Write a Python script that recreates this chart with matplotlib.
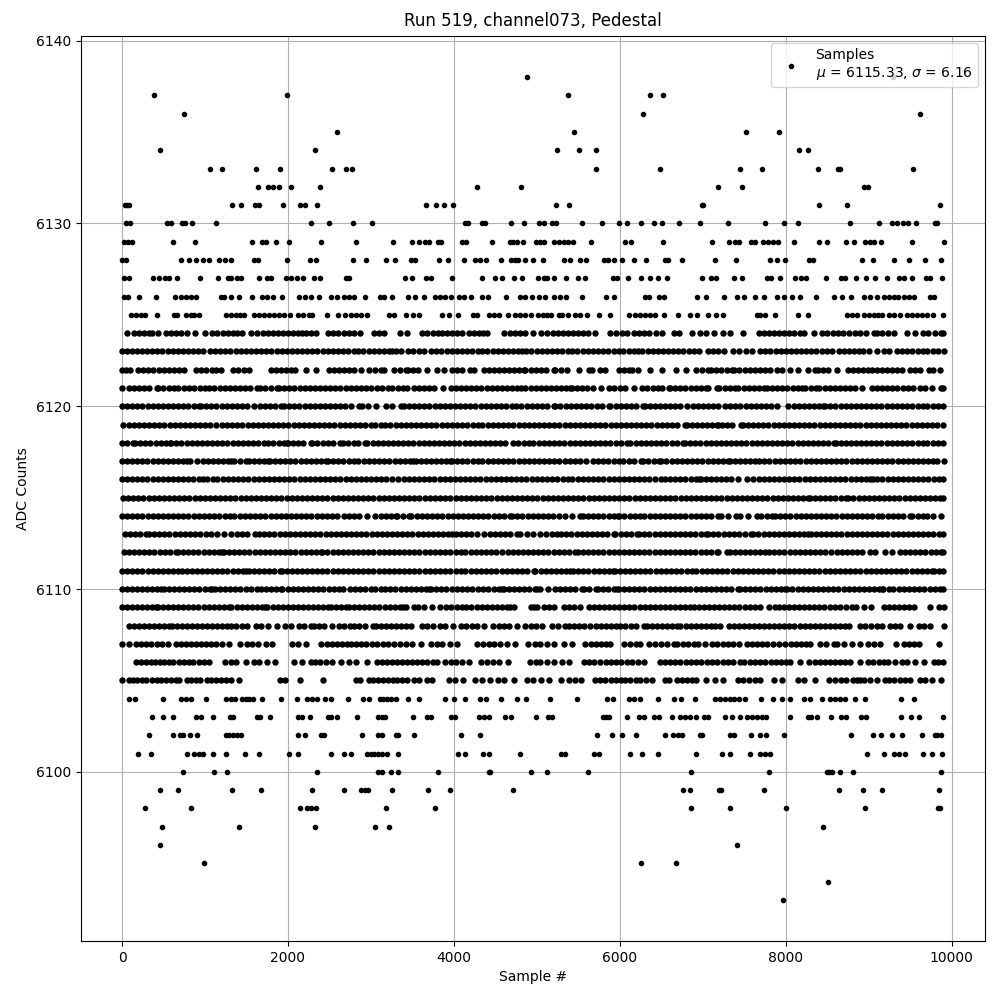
import matplotlib
matplotlib.use("Agg")
import matplotlib.pyplot as plt

# sample numbers, one list per ADC level
s6093 = [7964]
s6094 = [8506]
s6095 = [988, 6253, 6675]
s6096 = [458, 7410]
s6097 = [482, 1410, 2325, 3048, 3217, 8446]
s6098 = [277, 831, 2145, 2233, 2281, 2333, 3181, 3771, 6855, 7325, 8000, 8952, 9831, 9863]
s6099 = [458, 675, 1325, 1675, 2289, 2675, 2875, 2924, 2964, 3253, 3687, 3952, 4711, 6759, 6843, 7201, 7221, 7735, 8639, 8928, 9157, 9843]
s6100 = [735, 1108, 1265, 2349, 3084, 3128, 3241, 3325, 3807, 4421, 4441, 4928, 5120, 5614, 6855, 7795, 8498, 8526, 8554, 8651, 8807, 9867]
s6101 = [193, 349, 783, 867, 924, 980, 1096, 1253, 1482, 1651, 2012, 2120, 2518, 2675, 2759, 2956, 2996, 3036, 3084, 3136, 3189, 3325, 4048, 4132, 4349, 4425, 4795,
         5293, 5341, 5694, 5751, 6120, 6265, 6458, 6916, 7229, 7325, 7566, 7695, 7755, 7815, 8976, 9181, 9301, 9361, 9434, 9650, 9767, 9880]
s6102 = [325, 614, 699, 739, 819, 908, 1249, 1289, 1341, 1381, 1434, 2120, 2205, 2393, 2434, 2891, 3088, 3136, 3297, 3325, 3518, 4084, 4313,
         5723, 5904, 6024, 6193, 6542, 6639, 6699, 6747, 6964, 6992, 7325, 7373, 7578, 7687, 7767, 7976, 8783, 9048, 9144, 9277, 9398, 9639, 9795, 9823, 9871]
s6103 = [361, 494, 614, 892, 956, 1096, 1297, 1341, 1622, 1663, 1783, 2120, 2173, 2265, 2482, 2518, 2590, 2831, 3084, 3128, 3169, 3506, 3671, 3723, 3960, 4008, 4301, 4369, 4421, 4618, 4690, 4988,
         5133, 5185, 5799, 5839, 5876, 6084, 6229, 6297, 6410, 6474, 6627, 6731, 6791, 6851, 6924, 7012, 7068, 7265, 7349, 7454, 7534, 7594, 7655, 7715, 7767, 8056, 8265, 8305, 8373, 8542, 8667, 8727, 8912, 8968, 9385, 9506, 9610, 9902]
s6104 = [84, 161, 494, 707, 767, 831, 1012, 1249, 1309, 1357, 1442, 1490, 1530, 1574, 1687, 1916, 2108, 2233, 2293, 2345, 2446, 2522, 2723, 2904, 2976, 3104, 3149, 3189, 3237, 3301, 3446, 3574, 3891, 4000, 4132, 4321, 4385, 4566, 4759, 4867,
         5157, 5482, 5843, 5916, 6108, 6169, 6241, 6462, 6651, 6739, 6904, 7153, 7213, 7273, 7333, 7382, 7442, 7506, 7703, 7843, 7960, 8056, 8225, 8289, 8434, 8538, 8598, 8659, 8719, 8839, 8952, 9390, 9550]
s6105 = [0, 84, 135, 185, 237, 293, 357, 418, 470, 530, 590, 647, 687, 779, 835, 890, 945, 1028, 1076, 1135, 1190, 1250, 1309, 1410, 1900, 1960, 2145, 2422, 2815, 2868, 2976, 3030, 3090, 3150, 3205, 3265, 3317, 3377, 3440, 3518, 3578, 3679, 3739, 3940, 4008, 4108, 4257, 4341, 4434, 4530, 4602, 4723, 4876, 4956, 5052, 5145, 5293, 5385, 5465, 5534,
         5707, 5765, 5825, 5890, 5950, 6010, 6068, 6129, 6190, 6250, 6320, 6389, 6550, 6590, 6690, 6750, 6810, 6870, 6924, 7040, 7153, 7245, 7422, 7490, 7555, 7625, 7695, 7855, 7956, 8145, 8225, 8357, 8526, 8598, 8667, 8731, 8811, 8860, 8900, 8940, 9020, 9100, 9193, 9250, 9310, 9375, 9440, 9502, 9622, 9680, 9763, 9871]
s6106 = [165, 225, 285, 345, 400, 460, 506, 566, 618, 687, 745, 805, 860, 925, 985, 1048, 1237, 1309, 1369, 1498, 1590, 1650, 1743, 1847, 2072, 2173, 2273, 2330, 2390, 2460, 2534, 2635, 2735, 2819, 2948, 3076, 3136, 3195, 3255, 3315, 3370, 3440, 3500, 3558, 3620, 3680, 3745, 3799, 3899, 3960, 4030, 4100, 4181, 4333, 4400, 4470, 4542, 4655, 4923, 4985, 5044, 5125, 5205, 5305, 5385,
         5566, 5630, 5690, 5760, 5830, 5890, 5950, 6020, 6090, 6150, 6220, 6289, 6490, 6550, 6610, 6670, 6730, 6795, 6860, 6920, 6985, 7050, 7110, 7175, 7240, 7300, 7370, 7454, 7502, 7574, 7634, 7695, 7755, 7820, 7880, 7940, 8000, 8056, 8177, 8277, 8349, 8418, 8480, 8540, 8600, 8660, 8719, 8771, 8896, 8988, 9050, 9120, 9181, 9229, 9313, 9402, 9462, 9562, 9663, 9783, 9840, 9902]
s6107 = [4, 84, 165, 225, 285, 345, 420, 486, 554, 647, 710, 770, 830, 890, 950, 1010, 1075, 1135, 1200, 1289, 1422, 1502, 1570, 1640, 1730, 1811, 2044, 2125, 2213, 2402, 2465, 2530, 2590, 2650, 2715, 2755, 2820, 2880, 2945, 3010, 3075, 3145, 3210, 3277, 3349, 3420, 3490, 3598, 3719, 3800, 3859, 3952, 4040, 4281, 4350, 4421, 4482, 4560, 4643, 4735, 4892, 4984, 5044, 5125, 5205, 5325, 5422,
         5586, 5650, 5710, 5770, 5830, 5888, 6056, 6120, 6190, 6249, 6349, 6430, 6498, 6575, 6651, 6691, 6760, 6825, 6892, 6944, 7032, 7112, 7173, 7240, 7300, 7370, 7434, 7534, 7600, 7660, 7720, 7775, 7847, 7916, 7996, 8060, 8120, 8180, 8240, 8297, 8418, 8490, 8578, 8618, 8699, 8795, 8896, 8988, 9060, 9133, 9325, 9422, 9490, 9542, 9610, 9843]
s6108 = [84, 145, 205, 265, 325, 385, 445, 510, 566, 606, 665, 725, 785, 845, 905, 965, 1025, 1085, 1145, 1205, 1265, 1317, 1377, 1440, 1500, 1610, 1671, 1763, 1871, 1960, 2040, 2133, 2193, 2273, 2313, 2375, 2440, 2534, 2614, 2680, 2747, 2795, 2860, 2925, 3028, 3056, 3120, 3180, 3240, 3300, 3360, 3420, 3478, 3618, 3680, 3750, 3831, 3899, 3992, 4088, 4150, 4215, 4273, 4365, 4474, 4542, 4600, 4663, 4763, 4863, 4925, 4985, 5064,
         5185, 5250, 5345, 5385, 5450, 5510, 5566, 5646, 5710, 5770, 5830, 5890, 5950, 6008, 6068, 6130, 6200, 6289, 6329, 6390, 6450, 6510, 6570, 6630, 6691, 6731, 6795, 6860, 6920, 6980, 7040, 7100, 7153, 7205, 7313, 7375, 7435, 7495, 7555, 7620, 7680, 7740, 7800, 7860, 7920, 7980, 8040, 8096, 8169, 8230, 8295, 8355, 8420, 8480, 8540, 8600, 8660, 8720, 8759, 8900, 8960, 9030, 9100, 9161, 9261, 9321, 9382, 9502, 9602, 9663, 9743, 9904]
s6109 = [4, 65, 125, 185, 245, 305, 365, 405, 434, 495, 555, 615, 680, 740, 800, 860, 920, 985, 1045, 1105, 1170, 1230, 1289, 1317, 1380, 1440, 1505, 1565, 1625, 1690, 1719, 1751, 1820, 1880, 1940, 2000, 2060, 2120, 2180, 2240, 2305, 2365, 2425, 2486, 2514, 2580, 2640, 2703, 2735, 2795, 2855, 2920, 2980, 3040, 3100, 3165, 3225, 3285, 3345, 3390, 3418, 3518, 3566, 3639, 3739, 3831, 3908, 3970, 4040, 4100, 4152, 4209, 4281, 4340, 4400, 4460, 4520, 4580, 4640, 4680, 4723, 4924, 4964, 5004, 5092, 5150, 5205,
         5325, 5385, 5450, 5526, 5626, 5685, 5745, 5810, 5870, 5930, 5990, 6050, 6108, 6177, 6249, 6309, 6361, 6420, 6480, 6540, 6605, 6665, 6725, 6790, 6851, 6892, 6950, 7010, 7075, 7135, 7195, 7255, 7320, 7380, 7440, 7505, 7565, 7625, 7687, 7795, 7867, 7916, 7975, 8035, 8095, 8160, 8220, 8280, 8345, 8405, 8465, 8530, 8590, 8658, 8731, 8799, 8852, 8940, 9024, 9181, 9240, 9305, 9365, 9425, 9490, 9542, 9743, 9843, 9904]
s6110 = [0, 60, 120, 180, 240, 300, 360, 420, 474, 506, 565, 625, 690, 750, 810, 870, 930, 995, 1055, 1088, 1120, 1180, 1240, 1305, 1365, 1425, 1490, 1550, 1630, 1679, 1740, 1800, 1860, 1912, 1932, 1995, 2055, 2115, 2180, 2240, 2300, 2365, 2425, 2490, 2550, 2614, 2663, 2747, 2810, 2870, 2930, 2995, 3055, 3116, 3175, 3235, 3295, 3360, 3420, 3480, 3545, 3605, 3660, 3698, 3727, 3790, 3850, 3910, 3975, 4035, 4100, 4160, 4221, 4293, 4355, 4415, 4480, 4540, 4582, 4602, 4665, 4725, 4790, 4850, 4910, 4975, 5004, 5036, 5133,
         5217, 5280, 5340, 5400, 5465, 5546, 5566, 5630, 5719, 5739, 5800, 5860, 5925, 5968, 5988, 6050, 6110, 6175, 6235, 6295, 6360, 6420, 6480, 6545, 6605, 6665, 6730, 6790, 6850, 6915, 6975, 7035, 7100, 7160, 7220, 7285, 7345, 7430, 7450, 7510, 7575, 7635, 7695, 7760, 7820, 7880, 7945, 7992, 8012, 8080, 8145, 8205, 8265, 8330, 8390, 8450, 8515, 8575, 8635, 8700, 8760, 8820, 8885, 8945, 9005, 9070, 9130, 9157, 9177, 9240, 9300, 9365, 9425, 9485, 9550, 9610, 9670, 9735, 9795, 9855, 9900]
s6111 = [0, 60, 125, 185, 245, 310, 370, 430, 495, 555, 615, 680, 727, 779, 840, 900, 965, 1025, 1085, 1150, 1210, 1270, 1335, 1395, 1455, 1498, 1530, 1590, 1650, 1715, 1775, 1835, 1900, 1932, 1984, 2045, 2105, 2170, 2230, 2290, 2355, 2415, 2475, 2540, 2600, 2660, 2725, 2785, 2845, 2910, 2970, 3030, 3095, 3155, 3215, 3280, 3340, 3400, 3465, 3525, 3585, 3650, 3710, 3770, 3835, 3895, 3955, 4020, 4080, 4140, 4205, 4265, 4325, 4390, 4450, 4510, 4575, 4635, 4695, 4760, 4820, 4880, 4964, 4984, 5045, 5105, 5170, 5230, 5290, 5355, 5405, 5437, 5500, 5560, 5620, 5685, 5745, 5805, 5870, 5920,
         5940, 6000, 6065, 6125, 6185, 6250, 6310, 6370, 6435, 6495, 6555, 6620, 6680, 6740, 6805, 6865, 6925, 6990, 7050, 7110, 7175, 7235, 7295, 7360, 7420, 7480, 7545, 7605, 7665, 7730, 7790, 7850, 7915, 7975, 8035, 8100, 8160, 8220, 8285, 8345, 8405, 8470, 8530, 8590, 8655, 8715, 8775, 8840, 8896, 8964, 9025, 9085, 9150, 9210, 9270, 9335, 9395, 9455, 9520, 9580, 9640, 9705, 9759, 9787, 9850, 9900]
s6112 = [24, 85, 145, 205, 270, 330, 390, 455, 515, 575, 647, 675, 735, 800, 860, 920, 985, 1045, 1105, 1170, 1209, 1229, 1290, 1350, 1415, 1475, 1535, 1600, 1660, 1720, 1785, 1845, 1905, 1970, 2030, 2090, 2155, 2215, 2275, 2340, 2393, 2414, 2475, 2540, 2600, 2660, 2725, 2785, 2845, 2910, 2970, 3030, 3095, 3155, 3215, 3280, 3340, 3400, 3465, 3525, 3585, 3650, 3710, 3770, 3835, 3895, 3955, 4020, 4080, 4140, 4205, 4265, 4325, 4390, 4450, 4510, 4582, 4650, 4710, 4770, 4835, 4895, 4955, 5020, 5080, 5140, 5205, 5265, 5325, 5390, 5466, 5494, 5555, 5615, 5680, 5740, 5800, 5865, 5925, 5985,
         6050, 6110, 6170, 6235, 6295, 6355, 6420, 6480, 6540, 6605, 6665, 6725, 6790, 6850, 6910, 6975, 7035, 7100, 7170, 7190, 7290, 7325, 7385, 7450, 7510, 7570, 7635, 7695, 7755, 7803, 7865, 7925, 7985, 8050, 8110, 8170, 8235, 8295, 8355, 8420, 8480, 8542, 8614, 8675, 8735, 8800, 8860, 8920, 9016, 9076, 9197, 9277, 9378, 9440, 9500, 9565, 9625, 9685, 9750, 9810, 9870, 9902]
s6113 = [32, 95, 155, 220, 285, 325, 385, 450, 510, 570, 635, 695, 755, 820, 880, 945, 1008, 1068, 1150, 1229, 1317, 1380, 1440, 1505, 1598, 1651, 1715, 1775, 1835, 1900, 1960, 2020, 2085, 2145, 2205, 2270, 2330, 2390, 2455, 2515, 2575, 2640, 2700, 2760, 2825, 2885, 2945, 3010, 3070, 3130, 3195, 3255, 3315, 3380, 3440, 3500, 3565, 3625, 3685, 3750, 3810, 3870, 3930, 3980, 4020, 4085, 4145, 4205, 4281, 4369, 4430, 4490, 4555, 4615, 4675, 4763, 4795, 4880, 4960, 5040, 5110, 5185, 5245, 5293, 5355, 5415, 5480, 5540, 5600, 5665, 5725, 5785, 5850, 5928, 5948, 6010, 6070, 6135, 6213, 6233, 6295, 6355, 6420, 6480, 6540, 6605, 6665, 6725,
         6790, 6850, 6910, 6975, 7040, 7068, 7130, 7190, 7255, 7315, 7375, 7440, 7515, 7578, 7610, 7670, 7735, 7795, 7855, 7920, 7980, 8040, 8105, 8165, 8225, 8273, 8300, 8365, 8425, 8485, 8550, 8610, 8670, 8735, 8795, 8855, 8920, 8980, 9040, 9105, 9165, 9225, 9290, 9350, 9410, 9475, 9535, 9595, 9660, 9720, 9780, 9845, 9900]
s6114 = [0, 60, 125, 185, 245, 310, 370, 430, 495, 555, 615, 680, 740, 800, 865, 925, 985, 1050, 1110, 1170, 1235, 1295, 1355, 1420, 1480, 1540, 1605, 1665, 1725, 1790, 1850, 1910, 1975, 2035, 2095, 2160, 2220, 2280, 2345, 2405, 2465, 2530, 2594, 2675, 2735, 2800, 2860, 2956, 3044, 3124, 3185, 3245, 3297, 3317, 3390, 3458, 3486, 3550, 3610, 3675, 3740, 3800, 3860, 3925, 3985, 4045, 4110, 4170, 4230, 4295, 4355, 4415, 4480, 4540, 4600, 4675, 4703, 4765, 4825, 4890, 4950, 5010, 5075, 5135, 5195, 5265, 5345, 5420, 5526, 5554, 5615, 5680, 5740, 5800, 5865, 5925, 5976, 5996, 6055, 6120, 6180, 6241, 6297, 6360, 6420, 6480, 6545, 6605, 6670, 6730,
         6790, 6855, 6915, 6975, 7040, 7100, 7190, 7220, 7310, 7400, 7445, 7550, 7650, 7700, 7770, 7831, 7871, 7935, 7995, 8055, 8120, 8180, 8240, 8305, 8365, 8425, 8490, 8550, 8610, 8675, 8735, 8795, 8860, 8920, 8980, 9045, 9116, 9165, 9230, 9290, 9350, 9415, 9500, 9526, 9590, 9650, 9710, 9775, 9868]
s6115 = [16, 75, 135, 195, 255, 320, 380, 440, 505, 565, 625, 690, 750, 810, 875, 935, 995, 1060, 1120, 1180, 1245, 1305, 1365, 1430, 1490, 1550, 1615, 1675, 1735, 1800, 1860, 1920, 1985, 2045, 2105, 2170, 2230, 2290, 2355, 2415, 2475, 2540, 2600, 2660, 2725, 2785, 2845, 2910, 2970, 3030, 3095, 3155, 3215, 3280, 3340, 3400, 3465, 3525, 3585, 3650, 3710, 3770, 3835, 3895, 3955, 4020, 4090, 4145, 4205, 4265, 4330, 4390, 4450, 4515, 4575, 4635, 4700, 4760, 4820, 4885, 4945, 5005, 5070, 5130, 5190, 5255, 5315, 5375, 5440, 5500, 5560, 5625, 5685, 5745, 5810, 5870, 5930, 5995, 6055, 6115, 6180, 6240, 6300, 6365, 6425, 6485, 6550, 6610, 6670,
         6735, 6795, 6855, 6920, 6980, 7040, 7105, 7165, 7225, 7290, 7350, 7410, 7475, 7535, 7595, 7660, 7720, 7780, 7845, 7905, 7965, 8030, 8090, 8150, 8215, 8273, 8293, 8355, 8415, 8480, 8540, 8600, 8665, 8727, 8755, 8815, 8880, 8940, 9000, 9065, 9125, 9185, 9250, 9310, 9370, 9435, 9495, 9555, 9620, 9680, 9740, 9805, 9865, 9900]
s6116 = [0, 60, 120, 185, 245, 305, 370, 430, 490, 555, 615, 675, 740, 800, 860, 925, 980, 1028, 1090, 1150, 1215, 1275, 1335, 1400, 1460, 1520, 1585, 1645, 1705, 1770, 1831, 1892, 1955, 2015, 2075, 2140, 2200, 2260, 2325, 2385, 2445, 2510, 2570, 2630, 2695, 2755, 2815, 2880, 2940, 3000, 3065, 3125, 3185, 3250, 3325, 3398, 3460, 3520, 3580, 3645, 3705, 3765, 3830, 3890, 3950, 4015, 4075, 4135, 4200, 4260, 4320, 4385, 4445, 4505, 4570, 4630, 4690, 4755, 4815, 4875, 4940, 5000, 5060, 5125, 5185, 5245, 5310, 5370, 5430, 5495, 5555, 5615, 5680, 5740, 5800, 5865, 5925, 5985, 6050, 6110, 6170, 6235, 6295, 6355, 6420, 6502, 6550, 6610, 6670, 6730,
         6790, 6855, 6915, 6952, 6976, 7040, 7100, 7160, 7225, 7285, 7345, 7430, 7538, 7610, 7675, 7735, 7795, 7860, 7920, 7980, 8045, 8105, 8165, 8230, 8290, 8350, 8415, 8475, 8535, 8600, 8660, 8720, 8785, 8845, 8905, 8970, 9016, 9048, 9104, 9165, 9230, 9290, 9350, 9415, 9475, 9535, 9600, 9660, 9720, 9785, 9845, 9900]
s6117 = [0, 60, 120, 185, 245, 305, 370, 430, 490, 555, 615, 675, 740, 787, 819, 908, 970, 1030, 1095, 1155, 1215, 1280, 1317, 1349, 1420, 1498, 1530, 1590, 1650, 1715, 1763, 1783, 1845, 1905, 1970, 2030, 2090, 2155, 2215, 2275, 2340, 2400, 2454, 2482, 2545, 2605, 2665, 2730, 2790, 2850, 2915, 2975, 3035, 3100, 3160, 3220, 3285, 3345, 3405, 3470, 3510, 3538, 3600, 3665, 3725, 3785, 3850, 3910, 3952, 3976, 4040, 4100, 4160, 4225, 4285, 4345, 4410, 4470, 4530, 4595, 4655, 4715, 4780, 4840, 4900, 4965, 5025, 5085, 5150, 5210, 5270, 5335, 5395, 5455, 5520, 5598, 5675, 5740, 5800, 5860, 5925, 5985, 6045, 6110, 6170, 6253, 6285, 6345, 6410, 6470, 6498, 6560, 6625, 6685, 6745,
         6807, 6875, 6935, 6995, 7060, 7120, 7180, 7245, 7308, 7325, 7390, 7450, 7510, 7575, 7632, 7683, 7745, 7805, 7870, 7930, 7990, 8055, 8115, 8175, 8240, 8300, 8360, 8425, 8485, 8545, 8610, 8670, 8730, 8795, 8855, 8915, 8980, 9040, 9100, 9165, 9225, 9285, 9350, 9410, 9470, 9535, 9595, 9655, 9720, 9780, 9820, 9908]
s6118 = [0, 65, 136, 157, 220, 280, 340, 405, 465, 525, 574, 594, 655, 715, 780, 840, 900, 965, 1025, 1085, 1150, 1210, 1270, 1335, 1395, 1455, 1520, 1580, 1640, 1705, 1765, 1825, 1890, 1950, 1984, 2000, 2065, 2125, 2185, 2273, 2293, 2355, 2420, 2480, 2540, 2626, 2663, 2725, 2790, 2850, 2924, 2956, 3020, 3080, 3140, 3205, 3265, 3325, 3390, 3450, 3510, 3575, 3635, 3695, 3760, 3820, 3880, 3945, 4005, 4065, 4130, 4190, 4250, 4315, 4375, 4435, 4500, 4560, 4620, 4715, 4775, 4840, 4900, 4960, 5025, 5085, 5145, 5210, 5270, 5330, 5395, 5455, 5515, 5580, 5640, 5700, 5765, 5825, 5885, 5950, 6010, 6088, 6128, 6190, 6255, 6315, 6375, 6440, 6500, 6560, 6625, 6685, 6767,
         6787, 6850, 6910, 6970, 7035, 7095, 7155, 7220, 7280, 7340, 7405, 7465, 7525, 7590, 7650, 7710, 7775, 7835, 7895, 7960, 8020, 8080, 8145, 8205, 8265, 8330, 8390, 8450, 8515, 8582, 8602, 8665, 8725, 8785, 8850, 8910, 8970, 9035, 9095, 9155, 9220, 9280, 9340, 9405, 9465, 9525, 9590, 9650, 9710, 9775, 9835, 9900]
s6119 = [16, 80, 140, 205, 265, 325, 390, 450, 510, 575, 635, 695, 760, 820, 880, 945, 1005, 1065, 1130, 1209, 1269, 1330, 1390, 1450, 1515, 1575, 1635, 1700, 1760, 1820, 1885, 1945, 2005, 2070, 2130, 2190, 2255, 2315, 2375, 2440, 2500, 2560, 2625, 2685, 2745, 2810, 2870, 2930, 2995, 3055, 3116, 3175, 3235, 3300, 3360, 3420, 3485, 3545, 3605, 3670, 3730, 3790, 3855, 3915, 3975, 4040, 4100, 4160, 4225, 4285, 4345, 4410, 4470, 4530, 4595, 4655, 4715, 4780, 4840, 4900, 4965, 5025, 5085, 5150, 5210, 5270, 5335, 5395, 5455, 5520, 5580, 5640, 5705, 5765, 5825, 5890, 5950, 6010, 6075, 6135, 6195, 6260, 6320, 6380, 6445, 6505, 6565, 6630, 6690, 6787,
         6807, 6870, 6930, 6990, 7055, 7115, 7170, 7190, 7230, 7295, 7355, 7460, 7482, 7545, 7605, 7670, 7730, 7790, 7855, 7915, 7975, 8040, 8100, 8160, 8225, 8285, 8345, 8410, 8470, 8530, 8595, 8655, 8715, 8780, 8840, 8900, 8965, 9025, 9085, 9150, 9210, 9270, 9335, 9395, 9455, 9520, 9580, 9640, 9705, 9765, 9825, 9900]
s6120 = [0, 60, 125, 185, 245, 310, 370, 430, 495, 555, 615, 680, 740, 800, 865, 930, 950, 1015, 1075, 1135, 1200, 1260, 1320, 1385, 1445, 1505, 1590, 1663, 1723, 1785, 1845, 1912, 1952, 2015, 2075, 2135, 2200, 2260, 2320, 2385, 2445, 2505, 2570, 2630, 2690, 2755, 2855, 2895, 2960, 3056, 3177, 3257, 3357, 3398, 3460, 3520, 3585, 3645, 3705, 3770, 3830, 3890, 3955, 4015, 4075, 4140, 4200, 4260, 4325, 4385, 4445, 4510, 4570, 4630, 4695, 4755, 4815, 4880, 4940, 5000, 5065, 5125, 5205, 5225, 5285, 5350, 5410, 5470, 5535, 5595, 5655, 5720, 5780, 5867, 5888, 5950, 6010, 6070, 6135, 6195, 6280, 6300, 6365, 6425, 6485, 6550, 6610, 6670, 6723,
         6815, 6880, 6940, 7000, 7065, 7125, 7190, 7270, 7335, 7395, 7455, 7520, 7580, 7640, 7705, 7765, 7825, 7892, 8032, 8095, 8155, 8220, 8280, 8340, 8405, 8450, 8478, 8540, 8600, 8665, 8725, 8785, 8850, 8910, 8970, 9035, 9095, 9155, 9220, 9280, 9340, 9405, 9465, 9525, 9590, 9650, 9710, 9775, 9835, 9900]
s6121 = [0, 84, 145, 205, 270, 330, 418, 435, 495, 560, 620, 680, 745, 805, 865, 935, 996, 1048, 1110, 1175, 1235, 1295, 1360, 1420, 1480, 1545, 1630, 1663, 1725, 1790, 1870, 1892, 1955, 2015, 2075, 2140, 2200, 2260, 2325, 2385, 2445, 2510, 2570, 2630, 2695, 2755, 2815, 2880, 2940, 3000, 3068, 3136, 3200, 3260, 3325, 3385, 3438, 3518, 3580, 3640, 3705, 3765, 3870, 3960, 4025, 4085, 4145, 4210, 4270, 4330, 4395, 4455, 4515, 4580, 4640, 4700, 4765, 4811, 4863, 4925, 4985, 5050, 5110, 5170, 5235, 5295, 5355, 5405, 5425, 5490, 5550, 5610, 5675, 5775, 5867, 5935, 6000, 6068, 6177, 6269, 6330, 6395, 6455, 6515, 6590, 6610, 6670, 6730,
         6790, 6855, 6915, 6975, 7040, 7068, 7170, 7200, 7265, 7330, 7390, 7430, 7495, 7555, 7615, 7680, 7735, 7775, 7835, 7900, 7960, 8020, 8085, 8145, 8197, 8237, 8300, 8370, 8405, 8470, 8530, 8590, 8655, 8715, 8775, 8840, 8920, 9036, 9100, 9160, 9225, 9285, 9345, 9410, 9470, 9530, 9622, 9678, 9763, 9867, 9900]
s6122 = [0, 50, 100, 190, 255, 315, 375, 440, 500, 560, 625, 685, 750, 890, 955, 1015, 1080, 1130, 1190, 1340, 1400, 1465, 1530, 1790, 1855, 1915, 1975, 2035, 2090, 2217, 2337, 2494, 2555, 2615, 2680, 2740, 2795, 2880, 2980, 3045, 3117, 3157, 3277, 3345, 3420, 3450, 3510, 3570, 3680, 3800, 3880, 3980, 4040, 4100, 4200, 4240, 4360, 4420, 4480, 4545, 4605, 4665, 4730, 4790, 4843, 4863, 4925, 4990, 5050, 5110, 5205, 5225, 5290, 5365, 5506, 5626, 5667, 5767, 5819, 5988, 6050, 6108, 6150, 6220, 6361, 6510, 6675,
         6804, 6920, 6990, 7060, 7100, 7165, 7225, 7290, 7350, 7378, 7442, 7505, 7565, 7625, 7690, 7750, 7810, 7892, 7956, 8048, 8145, 8265, 8357, 8385, 8450, 8510, 8618, 8747, 8811, 8870, 8930, 8988, 9036, 9100, 9160, 9225, 9285, 9345, 9402, 9494, 9555, 9615, 9723, 9771, 9855]
s6123 = [0, 55, 115, 180, 240, 300, 365, 425, 485, 550, 610, 670, 735, 795, 855, 920, 980, 1060, 1120, 1185, 1245, 1305, 1370, 1430, 1490, 1555, 1615, 1680, 1740, 1800, 1865, 1925, 1985, 2050, 2110, 2170, 2235, 2295, 2355, 2420, 2480, 2540, 2605, 2665, 2725, 2790, 2850, 2910, 2975, 3035, 3095, 3160, 3220, 3260, 3300, 3360, 3450, 3510, 3575, 3640, 3730, 3790, 3850, 3915, 3975, 4035, 4100, 4160, 4220, 4285, 4345, 4405, 4470, 4530, 4590, 4655, 4715, 4775, 4825, 4875, 4935, 5000, 5060, 5120, 5185, 5245, 5305, 5370, 5430, 5490, 5555, 5615, 5675, 5740, 5800, 5860, 5925, 5985, 6045, 6110, 6170, 6220, 6270, 6335, 6395, 6455, 6520, 6580, 6640, 6700,
         6760, 6835, 6895, 6960, 7060, 7130, 7190, 7260, 7360, 7440, 7520, 7600, 7690, 7755, 7815, 7880, 7940, 8000, 8065, 8125, 8185, 8250, 8310, 8370, 8435, 8500, 8560, 8640, 8700, 8760, 8825, 8885, 8930, 9000, 9100, 9180, 9240, 9340, 9400, 9465, 9525, 9590, 9650, 9710, 9775, 9835, 9904]
s6124 = [64, 145, 205, 265, 325, 365, 434, 526, 586, 647, 707, 779, 884, 1000, 1088, 1150, 1215, 1275, 1340, 1390, 1450, 1550, 1630, 1695, 1755, 1820, 1880, 1940, 2005, 2065, 2125, 2173, 2213, 2275, 2333, 2482, 2545, 2605, 2670, 2730, 2790, 2867, 3036, 3100, 3157, 3349, 3438, 3618, 3680, 3745, 3811, 3859, 3920, 3980, 4040, 4104, 4180, 4240, 4300, 4350, 4402, 4610, 4675, 4735, 4800, 4863, 4952, 5052, 5125, 5190, 5250, 5310, 5375, 5435, 5495, 5560, 5620, 5707, 5888, 5950, 6025, 6088, 6169, 6230, 6290, 6355, 6440, 6510, 6650, 6711, 6867, 6972, 7040, 7133, 7241, 7325, 7486,
         7675, 7735, 7800, 7860, 7920, 7985, 8045, 8105, 8170, 8225, 8341, 8438, 8500, 8565, 8630, 8695, 8760, 8840, 8900, 8965, 9060, 9100, 9165, 9230, 9301, 9462, 9562, 9655, 9720, 9803, 9871, 9902]
s6125 = [104, 164, 225, 273, 426, 627, 667, 767, 827, 867, 928, 1249, 1309, 1369, 1420, 1470, 1590, 1651, 1711, 1771, 1831, 1892, 1952, 2024, 2121, 2181, 2253, 2293, 2466, 2602, 2683, 2755, 2815, 2875, 2956, 3217, 3277, 3422, 3506, 3582, 3859, 3940, 4052, 4233, 4281, 4421, 4482, 4546, 4655, 4735, 4803, 4863, 4924, 5012, 5080, 5124, 5173, 5265, 5305, 5380, 5458, 5518, 5606, 5747, 5888,
         6116, 6189, 6250, 6310, 6361, 6422, 6530, 6699, 6851, 6932, 7060, 7157, 7245, 7655, 7695, 7755, 7867, 8145, 8265, 8739, 8800, 8859, 8940, 9000, 9060, 9110, 9161, 9241, 9310, 9382, 9462, 9525, 9585, 9645, 9703, 9771, 9902]
s6126 = [24, 72, 201, 410, 639, 707, 767, 827, 896, 1189, 1229, 1317, 1410, 1566, 1691, 1751, 1823, 1928, 2137, 2201, 2273, 2377, 2522, 2594, 2675, 2735, 2795, 2928, 3108, 3157, 3253, 3446, 3534, 3639, 3767, 3831, 3899, 3960, 4060, 4120, 4205, 4337, 4410, 4626, 4803, 4863, 4944, 5024, 5104, 5205, 5285, 5357, 5546, 5831, 5928,
         6309, 6349, 6470, 6530, 6928, 7040, 7253, 7410, 7502, 7634, 7735, 7896, 7976, 8076, 8177, 8369, 8578, 8675, 8787, 8940, 9020, 9100, 9181, 9241, 9301, 9349, 9422, 9482, 9542, 9735, 9791]
s6127 = [24, 84, 373, 446, 514, 570, 667, 940, 1157, 1277, 1317, 1381, 1438, 1651, 1743, 1791, 1976, 2040, 2112, 2181, 2313, 2385, 2695, 2735, 3410, 3498, 3659, 3727, 3972, 4337, 4498, 4578, 4723, 4823, 5012, 5084, 5124, 5205, 5353, 5494, 5578, 5916, 5968,
         6096, 6253, 6361, 6458, 6566, 6988, 7096, 7161, 7378, 7478, 7779, 7823, 7928, 8116, 8181, 8249, 8482, 8667, 8719, 8843, 8964, 9072, 9217, 9361, 9422, 9522, 9691, 9735, 9883]
s6128 = [4, 52, 711, 807, 892, 976, 1048, 1169, 1241, 1313, 1590, 1638, 1992, 2261, 2337, 2783, 2940, 3181, 3289, 3478, 3530, 3819, 3928, 4120, 4253, 4313, 4385, 4574, 4683, 4743, 4771, 4855, 4952, 5072, 5325, 5397, 5526, 5590, 5815, 5863, 5936,
         6024, 6169, 6313, 6542, 6582, 6747, 7145, 7398, 7807, 7892, 7988, 8277, 8329, 8916, 9048, 9301, 9482, 9675, 9871]
s6129 = [24, 72, 120, 614, 880, 1566, 1687, 1735, 1855, 2016, 2398, 2819, 3265, 3494, 3582, 3655, 3695, 3807, 3847, 4100, 4148, 4458, 4671, 4711, 4767, 4831, 4988, 5044, 5084, 5205, 5265, 5325, 5381, 5438, 5651,
         6068, 6140, 6518, 7108, 7317, 7385, 7442, 7578, 7626, 7731, 7791, 7851, 7908, 8096, 8398, 8494, 8723, 8819, 8960, 9012, 9060, 9144, 9518, 9904]
s6130 = [44, 92, 546, 594, 723, 755, 843, 1132, 2277, 2494, 2783, 3012, 4140, 4172, 4345, 4377, 4691, 4843, 5024, 5092, 5189, 5237, 5542, 5783, 5988, 6092, 6253, 6410, 6506, 6711, 6964, 7301, 7747, 7976, 8145, 8779, 9128, 9277, 9341, 9414, 9474, 9570, 9799, 9823]
s6131 = [32, 60, 88, 1325, 1434, 1598, 1647, 1940, 2145, 2205, 2349, 3663, 3783, 3879, 3988, 5233, 5386, 6988, 7004, 8398, 8735, 9855]
s6132 = [1638, 1759, 1819, 1892, 2036, 2385, 4277, 4807, 7181, 7470, 8948, 8996]
s6133 = [1060, 1205, 1614, 1904, 2530, 2699, 2771, 5711, 6482, 7446, 7711, 8385, 8626, 8658, 9530]
s6134 = [458, 2325, 5241, 5506, 5711, 8157, 8265]
s6135 = [2590, 5446, 7518, 7916]
s6136 = [747, 6277, 9614]
s6137 = [386, 1988, 5373, 6361, 6518]
s6138 = [4880, 9300]

sparse_levels = [6093, 6094, 6095, 6096, 6097, 6098, 6099, 6100, 6101, 6102, 6103, 6104,
                 6125, 6126, 6127, 6128, 6129, 6130, 6131, 6132, 6133, 6134, 6135, 6136, 6137, 6138]
sparse_samples = [s6093, s6094, s6095, s6096, s6097, s6098, s6099, s6100, s6101, s6102, s6103, s6104,
                  s6125, s6126, s6127, s6128, s6129, s6130, s6131, s6132, s6133, s6134, s6135, s6136, s6137, s6138]
dense_levels = [6105, 6106, 6107, 6108, 6109, 6110, 6111, 6112, 6113, 6114, 6115, 6116, 6117, 6118, 6119, 6120, 6121, 6122, 6123, 6124]
dense_samples = [s6105, s6106, s6107, s6108, s6109, s6110, s6111, s6112, s6113, s6114, s6115, s6116, s6117, s6118, s6119, s6120, s6121, s6122, s6123, s6124]


def flatten(levels, rows):
    xs = []
    ys = []
    for level, row in zip(levels, rows):
        xs += row
        ys += [level] * len(row)
    return xs, ys


sparse_x, sparse_y = flatten(sparse_levels, sparse_samples)
dense_x, dense_y = flatten(dense_levels, dense_samples)

plt.figure(figsize=(10, 10))
plt.plot(sparse_x, sparse_y, 'k.', label="Samples\n$\\mu$ = 6115.33, $\\sigma$ = 6.16")
# the middle rows are read more coarsely, so their dots are a bit wider to close up
plt.plot(dense_x, dense_y, 'k.', markersize=7.2)
plt.xlabel("Sample #")
plt.ylabel("ADC Counts")
plt.title("Run 519, channel073, Pedestal", pad=7)
plt.legend(loc="upper right")
plt.grid(True)
plt.subplots_adjust(left=0.081, right=0.985, top=0.964, bottom=0.059)
plt.savefig("out.png", dpi=100)
